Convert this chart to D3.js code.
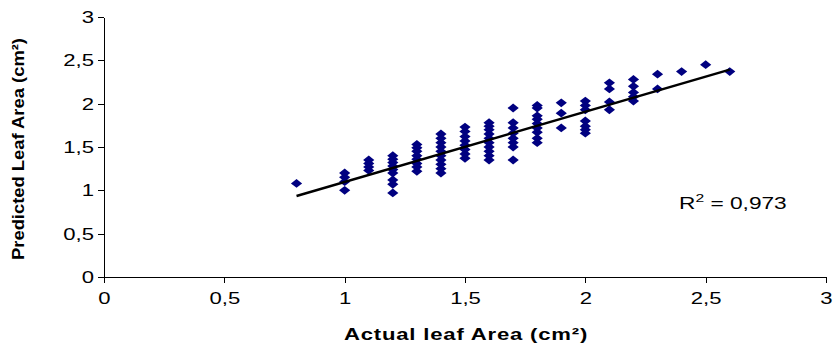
<!DOCTYPE html>
<html><head><meta charset="utf-8">
<script src="https://cdn.jsdelivr.net/npm/d3@7"></script>
<style>body{margin:0;background:#fff}svg{display:block}text{font-family:"Liberation Sans",Arial,sans-serif}</style>
</head><body><svg id="c" width="834" height="344"></svg>
<script>
const actualArea = [0.8,
 1.0,1.0,1.0,1.0,
 1.1,1.1,1.1,1.1,
 1.2,1.2,1.2,1.2,1.2,1.2,1.2,1.2,1.2,
 1.3,1.3,1.3,1.3,1.3,1.3,1.3,1.3,
 1.4,1.4,1.4,1.4,1.4,1.4,1.4,1.4,1.4,1.4,
 1.5,1.5,1.5,1.5,1.5,1.5,1.5,1.5,
 1.6,1.6,1.6,1.6,1.6,1.6,1.6,1.6,1.6,1.6,
 1.7,1.7,1.7,1.7,1.7,1.7,1.7,1.7,
 1.8,1.8,1.8,1.8,1.8,1.8,1.8,1.8,1.8,
 1.9,1.9,1.9,
 2.0,2.0,2.0,2.0,2.0,2.0,2.0,
 2.1,2.1,2.1,2.1,
 2.2,2.2,2.2,2.2,2.2,
 2.3,2.3,
 2.4,2.5,2.6];
const predictedArea = [1.08,
 1.2,1.15,1.1,1.0,
 1.35,1.31,1.27,1.23,
 1.40,1.36,1.32,1.28,1.24,1.2,1.12,1.07,0.97,
 1.53,1.49,1.45,1.4,1.36,1.31,1.27,1.22,
 1.65,1.6,1.55,1.5,1.45,1.4,1.35,1.3,1.25,1.2,
 1.73,1.68,1.62,1.57,1.52,1.47,1.42,1.37,
 1.78,1.74,1.7,1.65,1.6,1.55,1.5,1.45,1.4,1.35,
 1.95,1.78,1.72,1.66,1.6,1.55,1.5,1.35,
 1.98,1.95,1.86,1.82,1.77,1.72,1.67,1.6,1.55,
 2.01,1.89,1.72,
 2.03,1.98,1.93,1.8,1.74,1.7,1.66,
 2.24,2.17,2.02,1.93,
 2.28,2.2,2.13,2.08,2.03,
 2.34,2.17,
 2.37,2.45,2.37];
const xTicks = [0,0.5,1,1.5,2,2.5,3];
const yTicks = [0,0.5,1,1.5,2,2.5,3];
const trendX = [0.8, 2.6];
const trendCoef = [0.81, 0.287]; // slope, intercept
const rSquaredLabel = "0,973";

const SX = 1.38; // horizontal stretch of text seen in the reference
const svg = d3.select("#c");
const x = d3.scaleLinear().domain([0,3]).range([104,826]);
const y = d3.scaleLinear().domain([0,3]).range([277,17]);
const fmt = d => String(d).replace(".", ",");

const xAxis = svg.append("g").attr("transform","translate(0,277)")
  .call(d3.axisBottom(x).tickValues(xTicks).tickFormat(fmt).tickSize(6).tickPadding(8).tickSizeOuter(0));
const yAxis = svg.append("g").attr("transform","translate(104,0)")
  .call(d3.axisLeft(y).tickValues(yTicks).tickFormat(fmt).tickSize(6).tickPadding(9).tickSizeOuter(0));
[xAxis,yAxis].forEach(a=>{
  a.selectAll("path,line").attr("stroke","#000").attr("stroke-width",1).attr("shape-rendering","crispEdges");
  a.selectAll("text").attr("font-family","Liberation Sans, Arial, sans-serif").attr("font-size",16).attr("fill","#000");
});
xAxis.selectAll(".tick text").attr("y",0).attr("dy",null).attr("transform",`translate(0,27) scale(${SX},1)`);
yAxis.selectAll(".tick text").attr("x",0).attr("dy","0.35em").attr("transform",`translate(-10,0) scale(${SX},1)`);

// markers
const diamond = "M0,-4.4L5.6,0L0,4.4L-5.6,0Z";
svg.append("g").selectAll("path").data(actualArea.map((a,i)=>[a,predictedArea[i]]))
  .join("path").attr("d",diamond)
  .attr("transform",d=>`translate(${x(d[0])},${y(d[1])})`)
  .attr("fill","#000080");

// trend line
svg.append("line")
  .attr("x1",x(trendX[0])).attr("y1",y(trendCoef[0]*trendX[0]+trendCoef[1]))
  .attr("x2",x(trendX[1])).attr("y2",y(trendCoef[0]*trendX[1]+trendCoef[1]))
  .attr("stroke","#000").attr("stroke-width",2.5);

// R^2 label
const r = svg.append("text").attr("transform",`translate(679,209) scale(1.42,1)`).attr("font-size",16).attr("fill","#000");
r.append("tspan").text("R");
r.append("tspan").attr("dy",-7).attr("font-size",11).text("2");
r.append("tspan").attr("dy",7).text(" = " + rSquaredLabel);

// axis titles
svg.append("text").attr("transform",`translate(466,340) scale(${SX},1)`).attr("text-anchor","middle")
  .attr("font-size",16).attr("font-weight","bold").attr("letter-spacing","0.6").attr("fill","#000").text("Actual leaf Area (cm²)");
svg.append("text").attr("transform","translate(24,149) rotate(-90)").attr("text-anchor","middle")
  .attr("font-size",16).attr("font-weight","bold").attr("fill","#000")
  .attr("textLength",222).attr("lengthAdjust","spacingAndGlyphs").text("Predicted Leaf Area (cm²)");
</script></body></html>
